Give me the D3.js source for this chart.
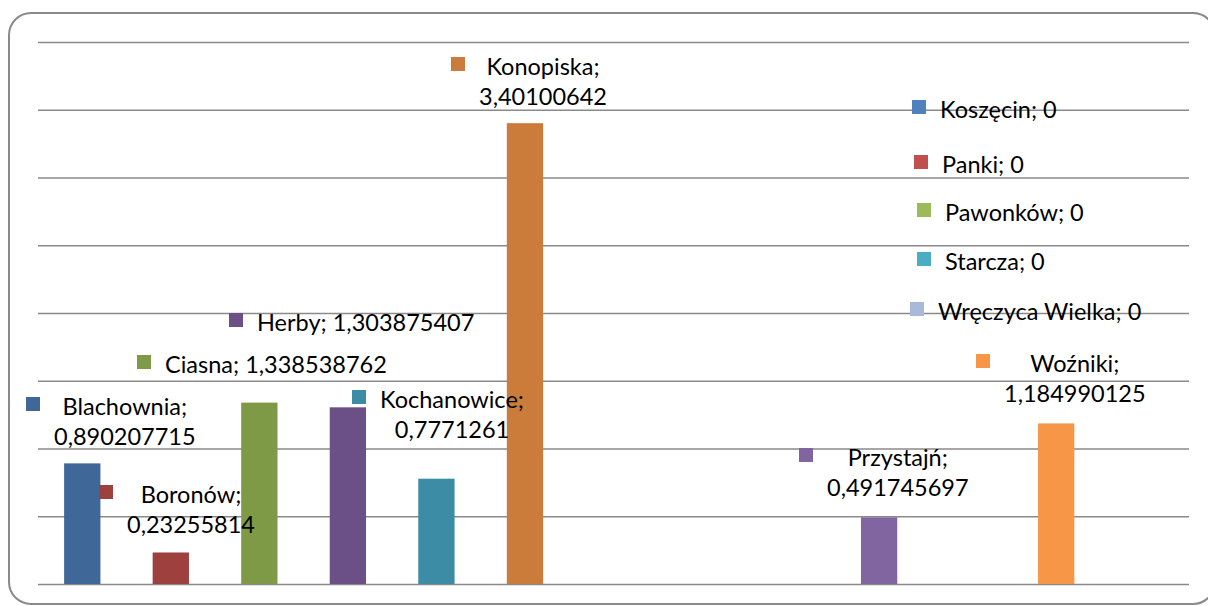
<!DOCTYPE html>
<html>
<head>
<meta charset="utf-8">
<script src="https://cdn.jsdelivr.net/npm/d3@7"></script>
<style>
  html, body { margin: 0; padding: 0; background: #fff; }
  svg { display: block; }
</style>
</head>
<body>
<div id="chart"></div>
<script>
// kategorie (gminy) i wartości
const gminy = ['Blachownia', 'Boronów', 'Ciasna', 'Herby', 'Kochanowice', 'Konopiska',
  'Koszęcin', 'Panki', 'Pawonków', 'Przystajń', 'Starcza', 'Woźniki', 'Wręczyca Wielka'];
const wartosci = [0.890207715, 0.23255814, 1.338538762, 1.303875407, 0.7771261, 3.40100642,
  0, 0, 0, 0.491745697, 0, 1.184990125, 0];
const etykiety = ['0,890207715', '0,23255814', '1,338538762', '1,303875407', '0,7771261', '3,40100642',
  '0', '0', '0', '0,491745697', '0', '1,184990125', '0'];
const kolory = ['#3f6899', '#9d403e', '#7e9a47', '#6a5087', '#3c8ca5', '#cb7c3a',
  '#4f81bd', '#c0504d', '#9bbb59', '#8065a1', '#4bacc6', '#f79646', '#a9b9d9'];
const yTicks = [0, 0.5, 1, 1.5, 2, 2.5, 3, 3.5, 4];

// położenie etykiet: lewa krawędź kluczyka, linia bazowa pierwszej linii, czy dwie linie
const labelLayout = {
  'Blachownia': { x: 26, y: 415, split: true },
  'Boronów': { x: 99, y: 503, split: true },
  'Ciasna': { x: 137, y: 373, split: false },
  'Herby': { x: 229, y: 331, split: false },
  'Kochanowice': { x: 352, y: 408, split: true },
  'Konopiska': { x: 451, y: 75, split: true },
  'Koszęcin': { x: 912, y: 118, split: false },
  'Panki': { x: 914, y: 173, split: false },
  'Pawonków': { x: 917, y: 221, split: false },
  'Przystajń': { x: 799, y: 466, split: true },
  'Starcza': { x: 917, y: 270, split: false },
  'Woźniki': { x: 976, y: 372, split: true },
  'Wręczyca Wielka': { x: 910, y: 320, split: false }
};

const width = 1208, height = 606;
const plot = { left: 38, right: 1189, top: 42, bottom: 584 };

const svg = d3.select('#chart').append('svg')
  .attr('width', width)
  .attr('height', height);

// ramka wykresu
svg.append('rect')
  .attr('x', 9).attr('y', 13)
  .attr('width', 1206).attr('height', 591)
  .attr('rx', 22).attr('ry', 22)
  .attr('fill', '#fff')
  .attr('stroke', '#8a8a8a')
  .attr('stroke-width', 2);

const x = d3.scaleBand()
  .domain(gminy)
  .range([plot.left, plot.right])
  .paddingInner(0.59)
  .paddingOuter(0.295);

const y = d3.scaleLinear().domain([0, 4]).range([plot.bottom, plot.top]);

// linie siatki
const grid = svg.append('g')
  .attr('transform', `translate(${plot.left},0)`)
  .call(d3.axisLeft(y).tickValues(yTicks).tickSize(-(plot.right - plot.left)).tickFormat(''));
grid.select('.domain').remove();
grid.selectAll('line').attr('stroke', '#8a8a8a').attr('stroke-width', 1.7);

// słupki
const data = gminy.map((g, i) => ({ name: g, value: wartosci[i], label: etykiety[i], color: kolory[i] }));

svg.append('g')
  .selectAll('rect')
  .data(data.filter(d => d.value > 0))
  .join('rect')
  .attr('x', d => x(d.name))
  .attr('y', d => y(d.value))
  .attr('width', x.bandwidth())
  .attr('height', d => y(0) - y(d.value))
  .attr('fill', d => d.color);

// etykiety danych z kluczykiem legendy
const fontSize = 23.5;
const lab = svg.append('g')
  .attr('font-family', 'Lato, "Open Sans", sans-serif')
  .attr('font-size', fontSize)
  .attr('fill', '#000');

data.forEach(d => {
  const pos = labelLayout[d.name];
  const lines = pos.split ? [d.name + ';', d.label] : [d.name + '; ' + d.label];
  const g = lab.append('g');
  g.append('rect')
    .attr('x', pos.x)
    .attr('y', pos.y - 18)
    .attr('width', 14)
    .attr('height', 14)
    .attr('fill', d.color);
  const texts = lines.map((t, i) => g.append('text')
    .attr('y', pos.y + i * 30)
    .attr('text-anchor', 'middle')
    .text(t));
  const w = d3.max(texts, t => t.node().getComputedTextLength());
  const cx = pos.x + 14 + 14 + w / 2;
  texts.forEach(t => t.attr('x', cx));
});
</script>
</body>
</html>
